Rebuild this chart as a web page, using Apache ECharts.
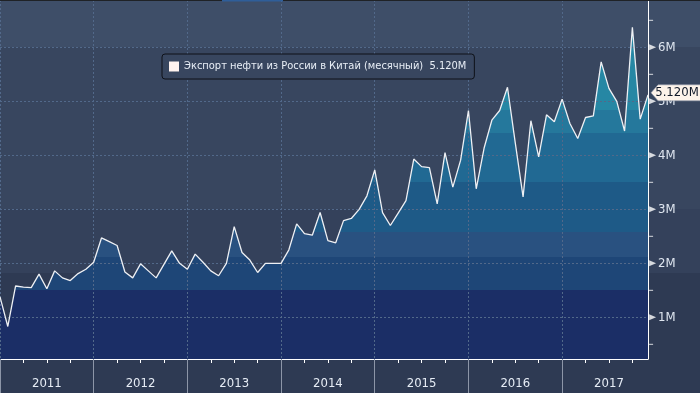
<!DOCTYPE html>
<html><head><meta charset="utf-8">
<script src="https://cdn.jsdelivr.net/npm/echarts@6/dist/echarts.min.js"></script>
<style>html,body{margin:0;padding:0;background:#2e3a52;}#chart{width:700px;height:393px;}</style>
</head><body><div id="chart"></div>
<script>
const seriesName = 'Экспорт нефти из России в Китай (месячный)';
// monthly categories Dec 2010 .. Nov 2017
const firstYear = 2010, firstMonth = 12, monthCount = 84;
const months = [];
for (let i = 0; i < monthCount; i++) {
  const k = firstMonth - 1 + i;
  months.push((firstYear + Math.floor(k / 12)) + '-' + String(k % 12 + 1).padStart(2, '0'));
}
// millions of tonnes
const values = [
  1.38, 0.83, 1.58, 1.56, 1.55, 1.80, 1.53, 1.86, 1.73, 1.68, 1.81, 1.89,
  2.02, 2.47, 2.40, 2.33, 1.84, 1.73, 1.99, 1.86, 1.73, 1.98, 2.23, 2.00,
  1.89, 2.17, 2.02, 1.86, 1.77, 2.00, 2.68, 2.20, 2.06, 1.83, 2.00, 2.00,
  2.00, 2.25, 2.73, 2.55, 2.52, 2.94, 2.42, 2.38, 2.79, 2.83, 3.00, 3.25,
  3.73, 2.94, 2.70, 2.93, 3.16, 3.93, 3.79, 3.77, 3.10, 4.05, 3.41, 3.91,
  4.83, 3.38, 4.13, 4.65, 4.83, 5.26, 4.23, 3.23, 4.64, 3.97, 4.75, 4.62,
  5.04, 4.59, 4.31, 4.70, 4.73, 5.73, 5.24, 5.00, 4.45, 6.37, 4.67, 5.12
];
const yMajorTicks = [1, 2, 3, 4, 5, 6];
const yMinorTicks = [0.5, 1.5, 2.5, 3.5, 4.5, 5.5, 6.5];
const bandBreaks = [1.5, 2.11, 2.585, 3.51, 4.42, 4.83];
const bandColors = ['#1b2e66', '#1e4677', '#295180', '#1e5a87', '#216993', '#25789c', '#2687a4'];

const FONT = '"DejaVu Sans Condensed", "DejaVu Sans", sans-serif';
const last = values.length - 1;

const pieces = bandColors.map((c, i) => {
  const p = { color: c };
  if (i > 0) p.gte = bandBreaks[i - 1];
  if (i < bandBreaks.length) p.lt = bandBreaks[i];
  return p;
});

const chart = echarts.init(document.getElementById('chart'), null, { renderer: 'canvas' });
chart.setOption({
  animation: false,
  backgroundColor: {
    type: 'linear', x: 0, y: 0, x2: 0, y2: 1,
    colorStops: [
      { offset: 0, color: '#3e4e68' }, { offset: 0.12, color: '#3e4e68' },
      { offset: 0.12, color: '#38465f' }, { offset: 0.532, color: '#38465f' },
      { offset: 0.532, color: '#34415b' }, { offset: 0.695, color: '#34415b' },
      { offset: 0.695, color: '#2e3a53' }, { offset: 1, color: '#2e3a53' }
    ]
  },
  grid: { left: 0, right: 52, top: 0, bottom: 34 },
  legend: {
    left: 162, top: 54,
    padding: [7, 8, 7, 7],
    backgroundColor: '#38465f', borderColor: '#0e1118', borderWidth: 1, borderRadius: 3,
    itemWidth: 10, itemHeight: 10, selectedMode: false,
    data: [{ name: seriesName, icon: 'rect', itemStyle: { color: '#fff3ef', borderWidth: 0 } }],
    textStyle: { color: '#e8eef6', fontSize: 11, fontFamily: FONT },
    formatter: n => n + '  ' + values[last].toFixed(3) + 'M'
  },
  visualMap: { show: false, type: 'piecewise', seriesIndex: 0, dimension: 1, pieces: pieces },
  xAxis: [{
    type: 'category', data: months, boundaryGap: false, position: 'bottom', z: 3,
    axisLine: { onZero: false, lineStyle: { color: '#ffffff', width: 1 } },
    axisTick: { show: true, interval: i => i % 3 === 0, length: 4, lineStyle: { color: '#ffffff' } },
    axisLabel: { interval: i => i % 12 === 6, formatter: v => v.slice(0, 4), color: '#e6ecf5', fontSize: 13, margin: 18, fontFamily: FONT },
    splitLine: { show: false }
  }, {
    type: 'category', data: months, boundaryGap: false, position: 'bottom', z: 3,
    axisLine: { show: false, onZero: false },
    axisTick: { show: true, interval: i => i % 12 === 0, length: 34, lineStyle: { color: '#8c95a7' } },
    axisLabel: { show: false },
    splitLine: { show: true, interval: i => i % 12 === 0, lineStyle: { color: '#52698a', type: [2, 2], width: 1 } }
  }],
  yAxis: {
    type: 'value', position: 'right', min: 0.228, max: 6.876, splitNumber: 6, z: 3,
    axisLine: { show: true, lineStyle: { color: '#ffffff', width: 1 } },
    axisTick: { show: false },
    axisLabel: {
      formatter: v => Math.abs(v - Math.round(v)) < 1e-6 ? Math.round(v) + 'M' : '',
      color: '#dfe6f0', fontSize: 13, margin: 10, fontFamily: FONT
    },
    splitLine: { show: true, lineStyle: { color: '#52698a', type: [2, 2], width: 1 } }
  },
  series: [{
    type: 'line', name: 'area', data: values, symbol: 'none', silent: true, z: 2,
    lineStyle: { width: 0 }, areaStyle: { opacity: 1 }
  }, {
    type: 'line', name: seriesName, data: values, symbol: 'none', silent: true, z: 5,
    lineStyle: { color: '#eef0f4', width: 1.3 }, itemStyle: { color: '#fff3ef' },
    markPoint: {
      silent: true,
      symbol: 'path://M0,8L7,0L52,0L52,16L7,16Z', symbolSize: [52, 16], symbolKeepAspect: false,
      symbolOffset: [29, -2],
      itemStyle: { color: '#fdf3ea', borderColor: '#8f99ab', borderWidth: 0.5 },
      label: { show: true, position: 'inside', formatter: p => p.value.toFixed(3) + 'M', color: '#111a2a', fontSize: 13, fontFamily: FONT },
      data: [{ coord: [last, values[last]], value: values[last] }]
    }
  }, {
    type: 'scatter', name: 'majorTicks', silent: true, z: 6, clip: false,
    data: yMajorTicks.map(v => [last, v]),
    symbol: 'path://M0,0L10,5L0,10Z', symbolSize: [7, 6], symbolOffset: [4.6, 0],
    itemStyle: { color: '#ffffff' }
  }, {
    type: 'scatter', name: 'minorTicks', silent: true, z: 6, clip: false,
    data: yMinorTicks.map(v => [last, v]),
    symbol: 'rect', symbolSize: [4, 1], symbolOffset: [3.1, 0],
    itemStyle: { color: '#ffffff' }
  }],
  graphic: [
    { type: 'rect', z: 100, silent: true, shape: { x: 0, y: 0, width: 700, height: 1 }, style: { fill: '#1f2226' } },
    { type: 'rect', z: 101, silent: true, shape: { x: 222, y: 0, width: 61, height: 1.5 }, style: { fill: '#2f5e99' } }
  ]
});
</script></body></html>
